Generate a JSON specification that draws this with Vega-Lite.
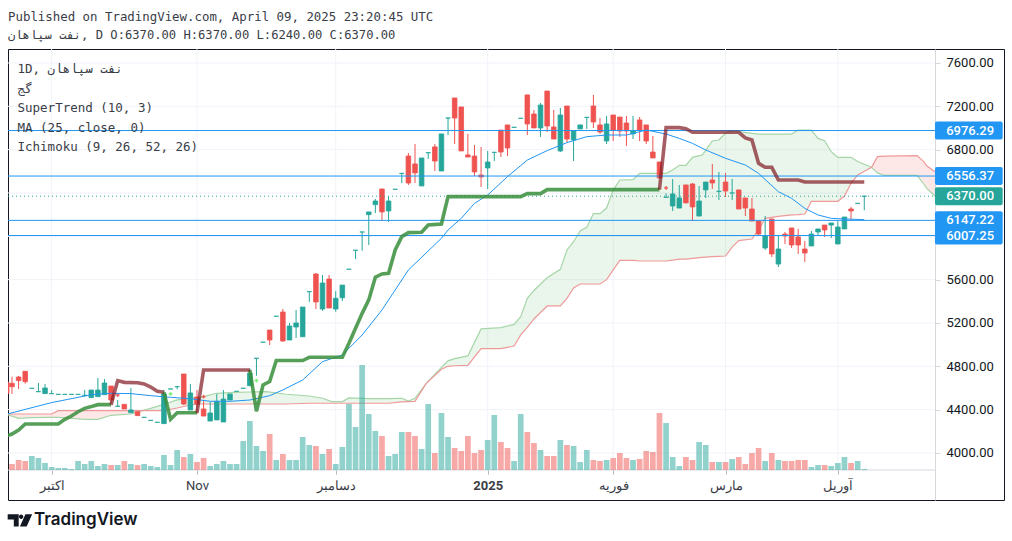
{
  "$schema": "https://vega.github.io/schema/vega-lite/v6.json",
  "width": 996,
  "height": 451,
  "autosize": {"type": "none"},
  "padding": {"left": 8, "top": 49, "right": 8, "bottom": 41},
  "background": "white",
  "title": {
    "text": "Published on TradingView.com, April 09, 2025 23:20:45 UTC",
    "subtitle": "نفت سپاهان, D O:6370.00 H:6370.00 L:6240.00 C:6370.00",
    "anchor": "start",
    "frame": "group",
    "offset": 7,
    "font": "DejaVu Sans Mono",
    "fontSize": 12.4,
    "fontWeight": "normal",
    "color": "#3a3d47",
    "subtitleFont": "DejaVu Sans Mono",
    "subtitleFontSize": 12.15,
    "subtitleColor": "#3a3d47",
    "subtitlePadding": 6
  },
  "config": {"view": {"stroke": "#131722", "strokeWidth": 1}, "scale": {"continuousPadding": 0}},
  "datasets": {
    "bars": [
      {"i":-0.8,"o":4652,"h":4652,"l":4551,"c":4551,"v":0,"dir":"down"},
      {"i":0,"o":4643,"h":4705,"l":4545,"c":4612,"v":6,"dir":"down"},
      {"i":1,"o":4701,"h":4711,"l":4591,"c":4668,"v":10,"dir":"down"},
      {"i":2,"o":4754,"h":4754,"l":4640,"c":4658,"v":9,"dir":"down"},
      {"i":3,"o":4597,"h":4597,"l":4597,"c":4597,"v":14,"dir":"up"},
      {"i":4,"o":4566,"h":4646,"l":4566,"c":4566,"v":12,"dir":"up"},
      {"i":5,"o":4548,"h":4637,"l":4548,"c":4600,"v":7,"dir":"up"},
      {"i":6,"o":4548,"h":4581,"l":4548,"c":4548,"v":3,"dir":"up"},
      {"i":7,"o":4541,"h":4541,"l":4541,"c":4541,"v":2,"dir":"up"},
      {"i":8,"o":4541,"h":4541,"l":4541,"c":4541,"v":2,"dir":"up"},
      {"i":9,"o":4541,"h":4541,"l":4541,"c":4541,"v":1,"dir":"up"},
      {"i":10,"o":4541,"h":4541,"l":4541,"c":4541,"v":9,"dir":"up"},
      {"i":11,"o":4532,"h":4581,"l":4520,"c":4532,"v":6,"dir":"up"},
      {"i":12,"o":4511,"h":4581,"l":4511,"c":4581,"v":9,"dir":"up"},
      {"i":13,"o":4520,"h":4692,"l":4520,"c":4581,"v":4,"dir":"up"},
      {"i":14,"o":4538,"h":4683,"l":4538,"c":4646,"v":6,"dir":"up"},
      {"i":15,"o":4618,"h":4618,"l":4458,"c":4489,"v":5,"dir":"down"},
      {"i":16,"o":4431,"h":4489,"l":4428,"c":4431,"v":5,"dir":"up"},
      {"i":17,"o":4449,"h":4449,"l":4406,"c":4406,"v":9,"dir":"down"},
      {"i":18,"o":4372,"h":4600,"l":4372,"c":4397,"v":6,"dir":"up"},
      {"i":19,"o":4381,"h":4381,"l":4345,"c":4345,"v":5,"dir":"down"},
      {"i":20,"o":4329,"h":4329,"l":4329,"c":4329,"v":6,"dir":"up"},
      {"i":21,"o":4301,"h":4301,"l":4301,"c":4301,"v":4,"dir":"up"},
      {"i":22,"o":4283,"h":4283,"l":4283,"c":4283,"v":3,"dir":"up"},
      {"i":23,"o":4271,"h":4581,"l":4271,"c":4545,"v":15,"dir":"up"},
      {"i":24,"o":4591,"h":4591,"l":4591,"c":4591,"v":5,"dir":"up"},
      {"i":25,"o":4612,"h":4612,"l":4588,"c":4612,"v":20,"dir":"up"},
      {"i":26,"o":4729,"h":4729,"l":4443,"c":4452,"v":13,"dir":"down"},
      {"i":27,"o":4397,"h":4637,"l":4397,"c":4554,"v":16,"dir":"up"},
      {"i":28,"o":4517,"h":4581,"l":4360,"c":4452,"v":8,"dir":"down"},
      {"i":29,"o":4406,"h":4489,"l":4341,"c":4341,"v":12,"dir":"down"},
      {"i":30,"o":4295,"h":4471,"l":4295,"c":4369,"v":4,"dir":"up"},
      {"i":31,"o":4305,"h":4545,"l":4305,"c":4477,"v":6,"dir":"up"},
      {"i":32,"o":4286,"h":4581,"l":4286,"c":4498,"v":9,"dir":"up"},
      {"i":33,"o":4489,"h":4545,"l":4489,"c":4545,"v":6,"dir":"up"},
      {"i":34,"o":4569,"h":4569,"l":4569,"c":4569,"v":6,"dir":"up"},
      {"i":35,"o":4597,"h":4597,"l":4597,"c":4597,"v":29,"dir":"up"},
      {"i":36,"o":4621,"h":4780,"l":4621,"c":4738,"v":49,"dir":"up"},
      {"i":37,"o":4874,"h":4874,"l":4713,"c":4874,"v":24,"dir":"up"},
      {"i":38,"o":5022,"h":5022,"l":5022,"c":5022,"v":19,"dir":"up"},
      {"i":39,"o":5135,"h":5135,"l":4997,"c":5043,"v":36,"dir":"down"},
      {"i":40,"o":5262,"h":5262,"l":5262,"c":5262,"v":10,"dir":"up"},
      {"i":41,"o":5301,"h":5329,"l":5025,"c":5034,"v":16,"dir":"down"},
      {"i":42,"o":5043,"h":5200,"l":5043,"c":5172,"v":10,"dir":"up"},
      {"i":43,"o":5163,"h":5320,"l":5061,"c":5200,"v":10,"dir":"up"},
      {"i":44,"o":5073,"h":5347,"l":5073,"c":5347,"v":33,"dir":"up"},
      {"i":45,"o":5489,"h":5489,"l":5394,"c":5489,"v":25,"dir":"up"},
      {"i":46,"o":5652,"h":5661,"l":5329,"c":5394,"v":24,"dir":"down"},
      {"i":47,"o":5329,"h":5643,"l":5313,"c":5569,"v":16,"dir":"up"},
      {"i":48,"o":5606,"h":5643,"l":5338,"c":5338,"v":21,"dir":"down"},
      {"i":49,"o":5329,"h":5495,"l":5304,"c":5428,"v":6,"dir":"up"},
      {"i":50,"o":5433,"h":5550,"l":5403,"c":5550,"v":23,"dir":"up"},
      {"i":51,"o":5696,"h":5696,"l":5696,"c":5696,"v":66,"dir":"up"},
      {"i":52,"o":5871,"h":5871,"l":5790,"c":5871,"v":43,"dir":"up"},
      {"i":53,"o":6040,"h":6040,"l":5867,"c":6040,"v":105,"dir":"up"},
      {"i":54,"o":6200,"h":6225,"l":5920,"c":6225,"v":56,"dir":"up"},
      {"i":55,"o":6292,"h":6345,"l":6215,"c":6326,"v":39,"dir":"up"},
      {"i":56,"o":6437,"h":6437,"l":6141,"c":6225,"v":34,"dir":"down"},
      {"i":57,"o":6234,"h":6372,"l":6132,"c":6326,"v":14,"dir":"up"},
      {"i":58,"o":6434,"h":6434,"l":6434,"c":6434,"v":16,"dir":"up"},
      {"i":59,"o":6581,"h":6581,"l":6492,"c":6581,"v":38,"dir":"up"},
      {"i":60,"o":6741,"h":6769,"l":6474,"c":6492,"v":38,"dir":"down"},
      {"i":61,"o":6668,"h":6852,"l":6492,"c":6585,"v":34,"dir":"down"},
      {"i":62,"o":6465,"h":6723,"l":6465,"c":6723,"v":21,"dir":"up"},
      {"i":63,"o":6772,"h":6772,"l":6714,"c":6772,"v":66,"dir":"up"},
      {"i":64,"o":6825,"h":6852,"l":6603,"c":6695,"v":17,"dir":"down"},
      {"i":65,"o":6603,"h":6945,"l":6603,"c":6945,"v":57,"dir":"up"},
      {"i":66,"o":7092,"h":7092,"l":6935,"c":7092,"v":33,"dir":"up"},
      {"i":67,"o":7277,"h":7277,"l":6852,"c":7092,"v":22,"dir":"down"},
      {"i":68,"o":7194,"h":7194,"l":6788,"c":6788,"v":19,"dir":"down"},
      {"i":69,"o":6751,"h":6945,"l":6732,"c":6732,"v":34,"dir":"down"},
      {"i":70,"o":6741,"h":6843,"l":6557,"c":6594,"v":17,"dir":"down"},
      {"i":71,"o":6566,"h":6825,"l":6455,"c":6548,"v":20,"dir":"down"},
      {"i":72,"o":6631,"h":6788,"l":6437,"c":6686,"v":30,"dir":"up"},
      {"i":73,"o":6775,"h":6775,"l":6695,"c":6775,"v":55,"dir":"up"},
      {"i":74,"o":6981,"h":6981,"l":6732,"c":6778,"v":28,"dir":"down"},
      {"i":75,"o":7028,"h":7028,"l":6741,"c":6815,"v":22,"dir":"down"},
      {"i":76,"o":7006,"h":7006,"l":7006,"c":7006,"v":9,"dir":"up"},
      {"i":77,"o":7089,"h":7089,"l":7089,"c":7089,"v":56,"dir":"up"},
      {"i":78,"o":7305,"h":7305,"l":6935,"c":7037,"v":38,"dir":"down"},
      {"i":79,"o":7129,"h":7166,"l":7000,"c":7000,"v":27,"dir":"down"},
      {"i":80,"o":7000,"h":7231,"l":6917,"c":7212,"v":20,"dir":"up"},
      {"i":81,"o":7341,"h":7341,"l":6963,"c":7018,"v":14,"dir":"down"},
      {"i":82,"o":7009,"h":7166,"l":6898,"c":6898,"v":14,"dir":"down"},
      {"i":83,"o":6788,"h":7185,"l":6778,"c":7120,"v":30,"dir":"up"},
      {"i":84,"o":7203,"h":7203,"l":6871,"c":6898,"v":25,"dir":"down"},
      {"i":85,"o":6889,"h":6972,"l":6695,"c":6972,"v":24,"dir":"up"},
      {"i":86,"o":6991,"h":7028,"l":6991,"c":7028,"v":8,"dir":"up"},
      {"i":87,"o":7098,"h":7098,"l":6991,"c":7098,"v":20,"dir":"up"},
      {"i":88,"o":7203,"h":7305,"l":7000,"c":7055,"v":10,"dir":"down"},
      {"i":89,"o":7028,"h":7092,"l":6945,"c":6963,"v":9,"dir":"down"},
      {"i":90,"o":6880,"h":7111,"l":6852,"c":7037,"v":10,"dir":"up"},
      {"i":91,"o":7120,"h":7120,"l":6880,"c":6981,"v":12,"dir":"down"},
      {"i":92,"o":7101,"h":7101,"l":6917,"c":6972,"v":17,"dir":"down"},
      {"i":93,"o":7046,"h":7111,"l":6834,"c":6972,"v":12,"dir":"down"},
      {"i":94,"o":6945,"h":7111,"l":6898,"c":6972,"v":10,"dir":"up"},
      {"i":95,"o":7074,"h":7101,"l":6880,"c":6981,"v":11,"dir":"down"},
      {"i":96,"o":7028,"h":7028,"l":6852,"c":6880,"v":19,"dir":"down"},
      {"i":97,"o":6778,"h":6926,"l":6723,"c":6723,"v":18,"dir":"down"},
      {"i":98,"o":6686,"h":6686,"l":6538,"c":6538,"v":57,"dir":"down"},
      {"i":99,"o":6360,"h":6397,"l":6360,"c":6360,"v":47,"dir":"up"},
      {"i":100,"o":6280,"h":6529,"l":6234,"c":6391,"v":13,"dir":"up"},
      {"i":101,"o":6261,"h":6474,"l":6261,"c":6354,"v":4,"dir":"up"},
      {"i":102,"o":6474,"h":6474,"l":6308,"c":6308,"v":13,"dir":"down"},
      {"i":103,"o":6483,"h":6492,"l":6141,"c":6271,"v":10,"dir":"down"},
      {"i":104,"o":6187,"h":6464,"l":6187,"c":6326,"v":28,"dir":"up"},
      {"i":105,"o":6428,"h":6501,"l":6354,"c":6501,"v":25,"dir":"up"},
      {"i":106,"o":6520,"h":6668,"l":6437,"c":6492,"v":8,"dir":"down"},
      {"i":107,"o":6415,"h":6594,"l":6335,"c":6415,"v":8,"dir":"up"},
      {"i":108,"o":6501,"h":6584,"l":6363,"c":6418,"v":8,"dir":"down"},
      {"i":109,"o":6400,"h":6529,"l":6335,"c":6400,"v":11,"dir":"up"},
      {"i":110,"o":6428,"h":6428,"l":6252,"c":6252,"v":13,"dir":"down"},
      {"i":111,"o":6354,"h":6354,"l":6187,"c":6261,"v":6,"dir":"down"},
      {"i":112,"o":6252,"h":6354,"l":6141,"c":6141,"v":17,"dir":"down"},
      {"i":113,"o":6141,"h":6141,"l":6012,"c":6021,"v":22,"dir":"down"},
      {"i":114,"o":5892,"h":6187,"l":5874,"c":6003,"v":9,"dir":"up"},
      {"i":115,"o":6160,"h":6160,"l":5809,"c":5837,"v":17,"dir":"down"},
      {"i":116,"o":5744,"h":6003,"l":5717,"c":5883,"v":10,"dir":"up"},
      {"i":117,"o":6021,"h":6040,"l":5929,"c":6003,"v":9,"dir":"down"},
      {"i":118,"o":6077,"h":6077,"l":5892,"c":5920,"v":9,"dir":"down"},
      {"i":119,"o":5994,"h":6068,"l":5837,"c":5920,"v":10,"dir":"down"},
      {"i":120,"o":5883,"h":5957,"l":5763,"c":5846,"v":10,"dir":"down"},
      {"i":121,"o":5911,"h":6049,"l":5911,"c":6021,"v":3,"dir":"up"},
      {"i":122,"o":6040,"h":6068,"l":6003,"c":6068,"v":5,"dir":"up"},
      {"i":123,"o":6104,"h":6104,"l":5994,"c":6058,"v":5,"dir":"down"},
      {"i":124,"o":6104,"h":6123,"l":5984,"c":6123,"v":4,"dir":"up"},
      {"i":125,"o":5929,"h":6141,"l":5929,"c":6086,"v":7,"dir":"up"},
      {"i":126,"o":6068,"h":6178,"l":6068,"c":6178,"v":13,"dir":"up"},
      {"i":127,"o":6252,"h":6271,"l":6151,"c":6234,"v":7,"dir":"down"},
      {"i":128,"o":6304,"h":6304,"l":6304,"c":6304,"v":9,"dir":"up"},
      {"i":129,"o":6370,"h":6370,"l":6240,"c":6370,"v":1,"dir":"up"}
    ],
    "supertrend": [
      {"i":-0.7,"p":4160,"seg":"g1"},{"i":0,"p":4175,"seg":"g1"},{"i":1,"p":4212,"seg":"g1"},{"i":2,"p":4268,"seg":"g1"},{"i":7,"p":4268,"seg":"g1"},{"i":8,"p":4311,"seg":"g1"},{"i":9,"p":4341,"seg":"g1"},{"i":10,"p":4381,"seg":"g1"},{"i":11,"p":4412,"seg":"g1"},{"i":12,"p":4428,"seg":"g1"},{"i":13,"p":4446,"seg":"g1"},{"i":15,"p":4446,"seg":"g1"},
      {"i":15,"p":4446,"seg":"r1"},{"i":16,"p":4668,"seg":"r1"},{"i":17,"p":4652,"seg":"r1"},{"i":19,"p":4649,"seg":"r1"},{"i":20,"p":4637,"seg":"r1"},{"i":21,"p":4609,"seg":"r1"},{"i":22,"p":4569,"seg":"r1"},{"i":23,"p":4560,"seg":"r1"},
      {"i":23,"p":4560,"seg":"g2"},{"i":24,"p":4311,"seg":"g2"},{"i":25,"p":4372,"seg":"g2"},{"i":28,"p":4372,"seg":"g2"},
      {"i":28,"p":4372,"seg":"r2"},{"i":29,"p":4766,"seg":"r2"},{"i":36,"p":4766,"seg":"r2"},
      {"i":36,"p":4766,"seg":"g3"},{"i":37,"p":4385,"seg":"g3"},{"i":38,"p":4628,"seg":"g3"},{"i":39,"p":4659,"seg":"g3"},{"i":40,"p":4853,"seg":"g3"},{"i":44,"p":4853,"seg":"g3"},{"i":45,"p":4883,"seg":"g3"},{"i":50,"p":4883,"seg":"g3"},{"i":51,"p":5013,"seg":"g3"},{"i":52,"p":5151,"seg":"g3"},{"i":53,"p":5289,"seg":"g3"},{"i":54,"p":5413,"seg":"g3"},{"i":55,"p":5622,"seg":"g3"},{"i":56,"p":5653,"seg":"g3"},{"i":57,"p":5659,"seg":"g3"},{"i":58,"p":5874,"seg":"g3"},{"i":59,"p":5997,"seg":"g3"},{"i":60,"p":6034,"seg":"g3"},{"i":62,"p":6037,"seg":"g3"},{"i":63,"p":6105,"seg":"g3"},{"i":65,"p":6114,"seg":"g3"},{"i":66,"p":6366,"seg":"g3"},{"i":77,"p":6366,"seg":"g3"},{"i":78,"p":6394,"seg":"g3"},{"i":80,"p":6394,"seg":"g3"},{"i":81,"p":6431,"seg":"g3"},{"i":98,"p":6431,"seg":"g3"},
      {"i":98,"p":6431,"seg":"r3"},{"i":99,"p":7003,"seg":"r3"},{"i":101,"p":7003,"seg":"r3"},{"i":102,"p":6994,"seg":"r3"},{"i":103,"p":6960,"seg":"r3"},{"i":110,"p":6960,"seg":"r3"},{"i":111,"p":6908,"seg":"r3"},{"i":112,"p":6889,"seg":"r3"},{"i":113,"p":6674,"seg":"r3"},{"i":114,"p":6637,"seg":"r3"},{"i":115,"p":6637,"seg":"r3"},{"i":116,"p":6520,"seg":"r3"},{"i":119,"p":6520,"seg":"r3"},{"i":120,"p":6501,"seg":"r3"},{"i":129,"p":6501,"seg":"r3"}
    ],
    "ma": [
      {"i":-0.7,"p":4360},{"i":6,"p":4465},{"i":12,"p":4538},{"i":15,"p":4551},{"i":18,"p":4548},{"i":21,"p":4529},{"i":24,"p":4514},{"i":27,"p":4501},{"i":30,"p":4477},{"i":33,"p":4477},{"i":36,"p":4489},{"i":39,"p":4529},{"i":41,"p":4582},{"i":44,"p":4674},{"i":47,"p":4843},{"i":50,"p":4905},{"i":53,"p":5089},{"i":56,"p":5320},{"i":60,"p":5689},{"i":65,"p":5982},{"i":66,"p":6058},{"i":68,"p":6166},{"i":70,"p":6304},{"i":72,"p":6381},{"i":75,"p":6551},{"i":78,"p":6704},{"i":81,"p":6791},{"i":84,"p":6865},{"i":87,"p":6920},{"i":90,"p":6935},{"i":93,"p":6935},{"i":96,"p":6981},{"i":97,"p":6969},{"i":99,"p":6944},{"i":101,"p":6904},{"i":103,"p":6858},{"i":105,"p":6797},{"i":108,"p":6720},{"i":111,"p":6658},{"i":113,"p":6581},{"i":116,"p":6412},{"i":118,"p":6351},{"i":120,"p":6258},{"i":122,"p":6197},{"i":124,"p":6166},{"i":126,"p":6160},{"i":129,"p":6154}
    ],
    "cloud": [
      {"i":-0.7,"a":4354,"b":4360,"seg":"r1","side":"red"},{"i":1,"a":4320,"b":4360,"seg":"r1","side":"red"},{"i":3,"a":4326,"b":4360,"seg":"r1","side":"red"},{"i":6,"a":4329,"b":4360,"seg":"r1","side":"red"},{"i":7,"a":4329,"b":4391,"seg":"r1","side":"red"},{"i":9,"a":4320,"b":4391,"seg":"r1","side":"red"},{"i":11,"a":4311,"b":4391,"seg":"r1","side":"red"},{"i":13,"a":4311,"b":4391,"seg":"r1","side":"red"},{"i":15,"a":4348,"b":4391,"seg":"r1","side":"red"},{"i":18,"a":4360,"b":4391,"seg":"r1","side":"red"},{"i":19.8,"a":4391,"b":4391,"seg":"r1","side":"red"},
      {"i":19.8,"a":4391,"b":4391,"seg":"g1","side":"green"},{"i":22,"a":4430,"b":4391,"seg":"g1","side":"green"},{"i":23,"a":4450,"b":4391,"seg":"g1","side":"green"},{"i":25,"a":4490,"b":4415,"seg":"g1","side":"green"},{"i":27,"a":4505,"b":4443,"seg":"g1","side":"green"},{"i":28.5,"a":4514,"b":4452,"seg":"g1","side":"green"},{"i":31,"a":4551,"b":4452,"seg":"g1","side":"green"},{"i":33.5,"a":4560,"b":4452,"seg":"g1","side":"green"},{"i":36,"a":4563,"b":4452,"seg":"g1","side":"green"},{"i":38.5,"a":4566,"b":4452,"seg":"g1","side":"green"},{"i":41.5,"a":4542,"b":4452,"seg":"g1","side":"green"},{"i":45,"a":4526,"b":4459,"seg":"g1","side":"green"},{"i":47,"a":4505,"b":4459,"seg":"g1","side":"green"},{"i":48.4,"a":4474,"b":4459,"seg":"g1","side":"green"},{"i":50,"a":4474,"b":4459,"seg":"g1","side":"green"},{"i":51,"a":4508,"b":4459,"seg":"g1","side":"green"},{"i":54,"a":4502,"b":4459,"seg":"g1","side":"green"},{"i":57,"a":4502,"b":4459,"seg":"g1","side":"green"},{"i":59,"a":4505,"b":4471,"seg":"g1","side":"green"},{"i":60,"a":4480,"b":4474,"seg":"g1","side":"green"},{"i":61,"a":4505,"b":4477,"seg":"g1","side":"green"},{"i":62.7,"a":4643,"b":4643,"seg":"g1","side":"green"},{"i":65,"a":4790,"b":4773,"seg":"g1","side":"green"},{"i":66,"a":4850,"b":4800,"seg":"g1","side":"green"},{"i":67,"a":4871,"b":4805,"seg":"g1","side":"green"},{"i":69,"a":4896,"b":4809,"seg":"g1","side":"green"},{"i":71,"a":5145,"b":4963,"seg":"g1","side":"green"},{"i":74,"a":5157,"b":4963,"seg":"g1","side":"green"},{"i":76,"a":5187,"b":4987,"seg":"g1","side":"green"},{"i":77,"a":5258,"b":5090,"seg":"g1","side":"green"},{"i":78,"a":5427,"b":5160,"seg":"g1","side":"green"},{"i":79,"a":5500,"b":5237,"seg":"g1","side":"green"},{"i":81,"a":5618,"b":5357,"seg":"g1","side":"green"},{"i":83,"a":5695,"b":5357,"seg":"g1","side":"green"},{"i":84,"a":5874,"b":5427,"seg":"g1","side":"green"},{"i":85,"a":5950,"b":5523,"seg":"g1","side":"green"},{"i":86,"a":6049,"b":5560,"seg":"g1","side":"green"},{"i":87,"a":6083,"b":5560,"seg":"g1","side":"green"},{"i":88,"a":6209,"b":5560,"seg":"g1","side":"green"},{"i":89,"a":6209,"b":5560,"seg":"g1","side":"green"},{"i":90,"a":6261,"b":5600,"seg":"g1","side":"green"},{"i":91,"a":6427,"b":5690,"seg":"g1","side":"green"},{"i":92,"a":6520,"b":5778,"seg":"g1","side":"green"},{"i":94,"a":6523,"b":5778,"seg":"g1","side":"green"},{"i":95,"a":6581,"b":5772,"seg":"g1","side":"green"},{"i":99,"a":6581,"b":5772,"seg":"g1","side":"green"},{"i":100,"a":6612,"b":5781,"seg":"g1","side":"green"},{"i":101,"a":6655,"b":5790,"seg":"g1","side":"green"},{"i":102,"a":6655,"b":5790,"seg":"g1","side":"green"},{"i":103,"a":6729,"b":5797,"seg":"g1","side":"green"},{"i":104.5,"a":6751,"b":5805,"seg":"g1","side":"green"},{"i":106,"a":6880,"b":5812,"seg":"g1","side":"green"},{"i":107,"a":6889,"b":5815,"seg":"g1","side":"green"},{"i":108,"a":6951,"b":5818,"seg":"g1","side":"green"},{"i":109,"a":6975,"b":5900,"seg":"g1","side":"green"},{"i":110,"a":6966,"b":5960,"seg":"g1","side":"green"},{"i":112,"a":6950,"b":5975,"seg":"g1","side":"green"},{"i":113,"a":6944,"b":6058,"seg":"g1","side":"green"},{"i":114,"a":6944,"b":6166,"seg":"g1","side":"green"},{"i":116,"a":6944,"b":6184,"seg":"g1","side":"green"},{"i":118,"a":6944,"b":6197,"seg":"g1","side":"green"},{"i":119,"a":6981,"b":6200,"seg":"g1","side":"green"},{"i":120,"a":6981,"b":6206,"seg":"g1","side":"green"},{"i":121,"a":6981,"b":6323,"seg":"g1","side":"green"},{"i":122,"a":6904,"b":6323,"seg":"g1","side":"green"},{"i":123,"a":6883,"b":6323,"seg":"g1","side":"green"},{"i":124,"a":6781,"b":6323,"seg":"g1","side":"green"},{"i":125,"a":6729,"b":6323,"seg":"g1","side":"green"},{"i":126,"a":6729,"b":6372,"seg":"g1","side":"green"},{"i":127,"a":6729,"b":6489,"seg":"g1","side":"green"},{"i":128,"a":6690,"b":6566,"seg":"g1","side":"green"},{"i":130.1,"a":6637,"b":6637,"seg":"g1","side":"green"},
      {"i":130.1,"a":6637,"b":6637,"seg":"r2","side":"red"},{"i":131,"a":6585,"b":6735,"seg":"r2","side":"red"},{"i":132,"a":6563,"b":6740,"seg":"r2","side":"red"},{"i":137,"a":6563,"b":6745,"seg":"r2","side":"red"},{"i":138,"a":6483,"b":6690,"seg":"r2","side":"red"},{"i":138.5,"a":6440,"b":6649,"seg":"r2","side":"red"},{"i":139.7,"a":6372,"b":6597,"seg":"r2","side":"red"}
    ],
    "levels": [
      {"p":6976.29,"dir":"level"},{"p":6556.37,"dir":"level"},{"p":6147.22,"dir":"level"},{"p":6007.25,"dir":"level"},{"p":6370,"dir":"up"}
    ],
    "gridY": [{"p":4000},{"p":4400},{"p":4800},{"p":5200},{"p":5600},{"p":6000},{"p":6400},{"p":6800},{"p":7200},{"p":7600}],
    "gridX": [{"i":6},{"i":28},{"i":49},{"i":72},{"i":91},{"i":108},{"i":125}],
    "crosses": [{"i":24,"p":4545,"dir":"up"},{"i":37,"p":4668,"dir":"up"},{"i":16,"p":4535,"dir":"down"},{"i":29,"p":4520,"dir":"down"},{"i":99,"p":6446,"dir":"down"}],
    "indicators": [
      {"indicator":"1D, نفت سپاهان"},{"indicator":"گج"},{"indicator":"SuperTrend (10, 3)"},{"indicator":"MA (25, close, 0)"},{"indicator":"Ichimoku (9, 26, 52, 26)"}
    ],
    "brand": [{"i":1.2,"p":3377,"name":"TradingView"}]
  },
  "resolve": {"scale": {"y": "independent"}, "axis": {"x": "independent"}},
  "layer": [
    {
      "data": {"name": "gridY"},
      "transform": [{"calculate": "-0.605", "as": "from"}, {"calculate": "139.7", "as": "to"}],
      "mark": {"type": "rule", "color": "#f0f3fa", "strokeWidth": 1},
      "encoding": {
        "x": {"field": "from", "type": "quantitative", "scale": {"domain": [-0.605, 150.15], "nice": false, "zero": false},
          "axis": {
            "orient": "bottom", "offset": -30, "values": [6, 28, 49, 72, 91, 108, 125],
            "title": null, "domain": false, "grid": false, "tickColor": "#b2b5be", "tickSize": 4,
            "labelFont": "Roboto", "labelFontSize": 13, "labelColor": "#3a3d47", "labelPadding": 5, "labelOverlap": false, "labelFlush": false,
            "labelFontWeight": {"condition": {"test": "datum.value == 72", "value": "bold"}, "value": "normal"},
            "labelExpr": "datum.value == 6 ? 'اکتبر' : datum.value == 28 ? 'Nov' : datum.value == 49 ? 'دسامبر' : datum.value == 72 ? '2025' : datum.value == 91 ? 'فوریه' : datum.value == 108 ? 'مارس' : 'آوریل'"
          }},
        "x2": {"field": "to"},
        "y": {"field": "p", "type": "quantitative", "scale": {"domain": [3566, 7729], "nice": false, "zero": false},
          "axis": {
            "orient": "right", "offset": -69, "values": [4000, 4400, 4800, 5200, 5600, 6800, 7200, 7600],
            "format": ".2f", "title": null, "grid": false, "domainColor": "#d6d8de", "tickColor": "#d6d8de", "tickSize": 5,
            "labelFont": "Roboto", "labelFontSize": 13, "labelColor": "#131722", "labelPadding": 6, "labelOverlap": false, "labelFlush": false
          }}
      }
    },
    {
      "data": {"name": "gridX"},
      "transform": [{"calculate": "3843", "as": "base"}, {"calculate": "7729", "as": "top"}],
      "mark": {"type": "rule", "color": "#f0f3fa", "strokeWidth": 1},
      "encoding": {
        "x": {"field": "i", "type": "quantitative", "scale": {"domain": [-0.605, 150.15], "nice": false, "zero": false}, "axis": null},
        "y": {"field": "base", "type": "quantitative", "scale": {"domain": [3566, 7729], "nice": false, "zero": false}, "axis": null},
        "y2": {"field": "top"}
      }
    },
    {
      "data": {"name": "gridY"},
      "transform": [{"filter": "datum.p == 4000"}, {"calculate": "3843", "as": "base"}, {"calculate": "-0.605", "as": "from"}, {"calculate": "139.7", "as": "to"}],
      "mark": {"type": "rule", "color": "#d6d8de", "strokeWidth": 1},
      "encoding": {
        "x": {"field": "from", "type": "quantitative", "scale": {"domain": [-0.605, 150.15], "nice": false, "zero": false}, "axis": null},
        "x2": {"field": "to"},
        "y": {"field": "base", "type": "quantitative", "scale": {"domain": [3566, 7729], "nice": false, "zero": false}, "axis": null}
      }
    },
    {
      "data": {"name": "cloud"},
      "transform": [{"filter": "datum.side == 'green'"}],
      "mark": {"type": "area", "color": "#43a047", "opacity": 0.11},
      "encoding": {
        "x": {"field": "i", "type": "quantitative", "scale": {"domain": [-0.605, 150.15], "nice": false, "zero": false}, "axis": null},
        "y": {"field": "a", "type": "quantitative", "scale": {"domain": [3566, 7729], "nice": false, "zero": false}, "axis": null},
        "y2": {"field": "b"},
        "detail": {"field": "seg"}
      }
    },
    {
      "data": {"name": "cloud"},
      "transform": [{"filter": "datum.side == 'red'"}],
      "mark": {"type": "area", "color": "#f44336", "opacity": 0.12},
      "encoding": {
        "x": {"field": "i", "type": "quantitative", "scale": {"domain": [-0.605, 150.15], "nice": false, "zero": false}, "axis": null},
        "y": {"field": "a", "type": "quantitative", "scale": {"domain": [3566, 7729], "nice": false, "zero": false}, "axis": null},
        "y2": {"field": "b"},
        "detail": {"field": "seg"}
      }
    },
    {
      "data": {"name": "cloud"},
      "mark": {"type": "line", "color": "#a5d6a7", "strokeWidth": 1.2, "clip": true},
      "encoding": {
        "x": {"field": "i", "type": "quantitative", "scale": {"domain": [-0.605, 150.15], "nice": false, "zero": false}, "axis": null},
        "y": {"field": "a", "type": "quantitative", "scale": {"domain": [3566, 7729], "nice": false, "zero": false}, "axis": null}
      }
    },
    {
      "data": {"name": "cloud"},
      "mark": {"type": "line", "color": "#ef9a9a", "strokeWidth": 1.2, "clip": true},
      "encoding": {
        "x": {"field": "i", "type": "quantitative", "scale": {"domain": [-0.605, 150.15], "nice": false, "zero": false}, "axis": null},
        "y": {"field": "b", "type": "quantitative", "scale": {"domain": [3566, 7729], "nice": false, "zero": false}, "axis": null}
      }
    },
    {
      "data": {"name": "bars"},
      "mark": {"type": "bar", "width": 5.7, "opacity": 0.5, "orient": "vertical", "clip": true},
      "encoding": {
        "x": {"field": "i", "type": "quantitative", "scale": {"domain": [-0.605, 150.15], "nice": false, "zero": false}, "axis": null},
        "y": {"field": "v", "type": "quantitative", "stack": false, "scale": {"domain": [-30, 421], "nice": false, "zero": false}, "axis": null},
        "color": {"field": "dir", "type": "nominal", "scale": {"domain": ["up", "down", "level"], "range": ["#26a69a", "#ef5350", "#2196f3"]}, "legend": null}
      }
    },
    {
      "data": {"name": "bars"},
      "mark": {"type": "rule", "strokeWidth": 1, "clip": true},
      "encoding": {
        "x": {"field": "i", "type": "quantitative", "scale": {"domain": [-0.605, 150.15], "nice": false, "zero": false}, "axis": null},
        "y": {"field": "l", "type": "quantitative", "scale": {"domain": [3566, 7729], "nice": false, "zero": false}, "axis": null},
        "y2": {"field": "h"},
        "color": {"field": "dir", "type": "nominal", "legend": null}
      }
    },
    {
      "data": {"name": "bars"},
      "mark": {"type": "bar", "width": 4.6, "strokeWidth": 0.8, "orient": "vertical", "clip": true},
      "encoding": {
        "x": {"field": "i", "type": "quantitative", "scale": {"domain": [-0.605, 150.15], "nice": false, "zero": false}, "axis": null},
        "y": {"field": "o", "type": "quantitative", "scale": {"domain": [3566, 7729], "nice": false, "zero": false}, "axis": null},
        "y2": {"field": "c"},
        "color": {"field": "dir", "type": "nominal", "legend": null},
        "stroke": {"field": "dir", "type": "nominal", "scale": {"domain": ["up", "down"], "range": ["#26a69a", "#ef5350"]}, "legend": null}
      }
    },
    {
      "data": {"name": "crosses"},
      "mark": {"type": "point", "shape": "cross", "size": 14, "filled": true, "opacity": 0.9},
      "encoding": {
        "x": {"field": "i", "type": "quantitative", "scale": {"domain": [-0.605, 150.15], "nice": false, "zero": false}, "axis": null},
        "y": {"field": "p", "type": "quantitative", "scale": {"domain": [3566, 7729], "nice": false, "zero": false}, "axis": null},
        "fill": {"field": "dir", "type": "nominal", "scale": {"domain": ["up", "down"], "range": ["#69f069", "#ef5350"]}, "legend": null}
      }
    },
    {
      "data": {"name": "levels"},
      "transform": [{"filter": "datum.dir == 'level'"}, {"calculate": "-0.605", "as": "from"}, {"calculate": "139.7", "as": "to"}],
      "mark": {"type": "rule", "color": "#2196f3", "strokeWidth": 1},
      "encoding": {
        "x": {"field": "from", "type": "quantitative", "scale": {"domain": [-0.605, 150.15], "nice": false, "zero": false}, "axis": null},
        "x2": {"field": "to"},
        "y": {"field": "p", "type": "quantitative", "scale": {"domain": [3566, 7729], "nice": false, "zero": false}, "axis": null}
      }
    },
    {
      "data": {"name": "levels"},
      "transform": [{"filter": "datum.dir == 'up'"}, {"calculate": "-0.605", "as": "from"}, {"calculate": "139.7", "as": "to"}],
      "mark": {"type": "rule", "color": "#26a69a", "strokeWidth": 1, "strokeDash": [1, 3]},
      "encoding": {
        "x": {"field": "from", "type": "quantitative", "scale": {"domain": [-0.605, 150.15], "nice": false, "zero": false}, "axis": null},
        "x2": {"field": "to"},
        "y": {"field": "p", "type": "quantitative", "scale": {"domain": [3566, 7729], "nice": false, "zero": false}, "axis": null}
      }
    },
    {
      "data": {"name": "ma"},
      "mark": {"type": "line", "color": "#2196f3", "strokeWidth": 1, "clip": true},
      "encoding": {
        "x": {"field": "i", "type": "quantitative", "scale": {"domain": [-0.605, 150.15], "nice": false, "zero": false}, "axis": null},
        "y": {"field": "p", "type": "quantitative", "scale": {"domain": [3566, 7729], "nice": false, "zero": false}, "axis": null}
      }
    },
    {
      "data": {"name": "supertrend"},
      "transform": [{"filter": "indexof(datum.seg, 'g') == 0"}],
      "mark": {"type": "line", "color": "#388e3c", "strokeWidth": 3.6, "opacity": 0.85, "clip": true},
      "encoding": {
        "x": {"field": "i", "type": "quantitative", "scale": {"domain": [-0.605, 150.15], "nice": false, "zero": false}, "axis": null},
        "y": {"field": "p", "type": "quantitative", "scale": {"domain": [3566, 7729], "nice": false, "zero": false}, "axis": null},
        "detail": {"field": "seg"}
      }
    },
    {
      "data": {"name": "supertrend"},
      "transform": [{"filter": "indexof(datum.seg, 'r') == 0"}],
      "mark": {"type": "line", "color": "#801922", "strokeWidth": 3.6, "opacity": 0.7, "clip": true},
      "encoding": {
        "x": {"field": "i", "type": "quantitative", "scale": {"domain": [-0.605, 150.15], "nice": false, "zero": false}, "axis": null},
        "y": {"field": "p", "type": "quantitative", "scale": {"domain": [3566, 7729], "nice": false, "zero": false}, "axis": null},
        "detail": {"field": "seg"}
      }
    },
    {
      "data": {"name": "levels"},
      "transform": [{"calculate": "139.7", "as": "from"}, {"calculate": "149.95", "as": "to"}],
      "mark": {"type": "bar", "height": 18, "orient": "horizontal", "cornerRadiusEnd": 2},
      "encoding": {
        "x": {"field": "from", "type": "quantitative", "scale": {"domain": [-0.605, 150.15], "nice": false, "zero": false}, "axis": null},
        "x2": {"field": "to"},
        "y": {"field": "p", "type": "quantitative", "scale": {"domain": [3566, 7729], "nice": false, "zero": false}, "axis": null},
        "color": {"field": "dir", "type": "nominal", "legend": null}
      }
    },
    {
      "data": {"name": "levels"},
      "transform": [{"calculate": "141.4", "as": "from"}],
      "mark": {"type": "text", "align": "left", "font": "Roboto", "fontSize": 13, "fontWeight": 500, "color": "white"},
      "encoding": {
        "x": {"field": "from", "type": "quantitative", "scale": {"domain": [-0.605, 150.15], "nice": false, "zero": false}, "axis": null},
        "y": {"field": "p", "type": "quantitative", "scale": {"domain": [3566, 7729], "nice": false, "zero": false}, "axis": null},
        "text": {"field": "p", "type": "quantitative", "format": ".2f"}
      }
    },
    {
      "data": {"name": "indicators"},
      "mark": {"type": "point", "opacity": 0},
      "encoding": {
        "shape": {
          "field": "indicator", "type": "nominal", "sort": null,
          "legend": {
            "orient": "none", "legendX": -5, "legendY": 14, "title": null, "symbolSize": 1, "symbolOpacity": 0, "symbolStrokeWidth": 0,
            "labelFont": "DejaVu Sans Mono", "labelFontSize": 12.5, "labelColor": "#3a3d47", "labelLimit": 320, "rowPadding": 6.5, "labelOffset": 2
          }
        }
      }
    },
    {
      "data": {"name": "brand"},
      "mark": {"type": "point", "filled": true, "color": "#131722", "opacity": 1, "size": 600, "clip": false,
        "shape": "M-1,-0.5 H-0.1 V0.5 H-0.5 V-0.08 H-1 Z M-0.08,-0.3 a0.18,0.18 0 1 0 0.36,0 a0.18,0.18 0 1 0 -0.36,0 Z M0.45,-0.5 H1 L0.55,0.5 H0 Z"},
      "encoding": {
        "x": {"field": "i", "type": "quantitative", "scale": {"domain": [-0.605, 150.15], "nice": false, "zero": false}, "axis": null},
        "y": {"field": "p", "type": "quantitative", "scale": {"domain": [3566, 7729], "nice": false, "zero": false}, "axis": null}
      }
    },
    {
      "data": {"name": "brand"},
      "mark": {"type": "text", "align": "left", "dx": 14, "font": "Inter", "fontSize": 17, "fontWeight": 600, "color": "#131722", "clip": false},
      "encoding": {
        "x": {"field": "i", "type": "quantitative", "scale": {"domain": [-0.605, 150.15], "nice": false, "zero": false}, "axis": null},
        "y": {"field": "p", "type": "quantitative", "scale": {"domain": [3566, 7729], "nice": false, "zero": false}, "axis": null},
        "text": {"field": "name"}
      }
    }
  ]
}
